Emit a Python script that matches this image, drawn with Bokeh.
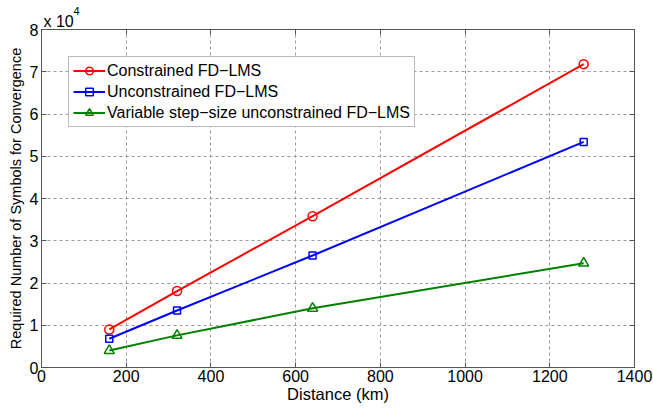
from bokeh.plotting import figure
from bokeh.models import (Legend, LegendItem, LinearAxis, FixedTicker, Title, Range1d,
                          CustomJSTickFormatter)
from bokeh.embed import file_html
from bokeh.resources import INLINE

distance = [160, 320, 640, 1280]
constrained = [9000, 18100, 35800, 71800]
unconstrained = [6800, 13500, 26500, 53400]
variable_step = [4000, 7600, 14000, 24700]
labels = ["Constrained FD\u2212LMS", "Unconstrained FD\u2212LMS",
          "Variable step\u2212size unconstrained FD\u2212LMS"]
x_ticks = [0, 200, 400, 600, 800, 1000, 1200, 1400]
y_ticks = [0, 10000, 20000, 30000, 40000, 50000, 60000, 70000, 80000]

FONT = "Liberation Sans"

p = figure(width=653, height=408, output_backend="svg", toolbar_location=None,
           x_range=Range1d(0, 1400), y_range=Range1d(0, 80000),
           min_border_left=41, min_border_right=19, min_border_top=29, min_border_bottom=41)
p.background_fill_color = "white"
p.border_fill_color = "white"
p.outline_line_color = "#555555"
p.outline_line_width = 1

for ax in (p.xaxis[0], p.yaxis[0]):
    ax.major_tick_in = 5
    ax.major_tick_out = 0
    ax.minor_tick_in = 0
    ax.minor_tick_out = 0
    ax.axis_line_color = "#555555"
    ax.major_tick_line_color = "#555555"
    ax.major_label_text_font = FONT
    ax.major_label_text_font_size = "16px"
    ax.major_label_text_color = "black"
    ax.axis_label_text_font = FONT
    ax.axis_label_text_font_style = "normal"
    ax.axis_label_text_color = "black"

p.xaxis[0].ticker = FixedTicker(ticks=x_ticks)
p.yaxis[0].ticker = FixedTicker(ticks=y_ticks)
p.yaxis[0].formatter = CustomJSTickFormatter(code="return (tick/10000).toFixed(0);")
p.xaxis[0].axis_label = "Distance (km)"
p.xaxis[0].axis_label_text_font_size = "16.5px"
p.xaxis[0].axis_label_standoff = 0
p.xaxis[0].major_label_standoff = 2
p.yaxis[0].axis_label = "Required Number of Symbols for Convergence"
p.yaxis[0].axis_label_text_font_size = "14.5px"
p.yaxis[0].axis_label_standoff = 3
p.yaxis[0].major_label_standoff = 3

blank = CustomJSTickFormatter(code="return '';")
top = LinearAxis(ticker=FixedTicker(ticks=x_ticks), formatter=blank,
                 major_tick_in=5, major_tick_out=0, minor_tick_in=0, minor_tick_out=0,
                 major_label_standoff=0,
                 axis_line_color="#555555", major_tick_line_color="#555555")
right = LinearAxis(ticker=FixedTicker(ticks=y_ticks), formatter=blank,
                   major_tick_in=5, major_tick_out=0, minor_tick_in=0, minor_tick_out=0,
                   major_label_standoff=0,
                   axis_line_color="#555555", major_tick_line_color="#555555")
p.add_layout(top, "above")
p.add_layout(right, "right")

# multiplier "x 10^4" drawn as two stacked titles (base + superscript)
p.add_layout(Title(text="x 10", align="left", offset=2, standoff=0,
                   text_font=FONT, text_font_size="16px", text_font_style="normal",
                   text_color="black"), "above")
p.add_layout(Title(text="4", align="left", offset=32, standoff=-9,
                   text_font=FONT, text_font_size="11px", text_font_style="normal",
                   text_color="black"), "above")

p.xgrid.ticker = FixedTicker(ticks=x_ticks)
p.ygrid.ticker = FixedTicker(ticks=y_ticks)
for g in (p.xgrid[0], p.ygrid[0]):
    g.grid_line_color = "#9a9a9a"
    g.grid_line_dash = "3 3"
    g.grid_line_width = 1

r1l = p.line(distance, constrained, line_color="#ff0000", line_width=2)
r1m = p.scatter(distance, constrained, marker="circle", size=9, line_color="#ff0000",
                fill_color=None, line_width=1.5)
r2l = p.line(distance, unconstrained, line_color="#0000ff", line_width=2)
r2m = p.scatter(distance, unconstrained, marker="square", size=7, line_color="#0000ff",
                fill_color=None, line_width=1.5)
r3l = p.line(distance, variable_step, line_color="#008000", line_width=2)
r3m = p.scatter(distance, variable_step, marker="triangle", size=10, line_color="#008000",
                fill_color=None, line_width=1.5)

legend = Legend(items=[LegendItem(label=labels[0], renderers=[r1l, r1m]),
                       LegendItem(label=labels[1], renderers=[r2l, r2m]),
                       LegendItem(label=labels[2], renderers=[r3l, r3m])],
                location=(27, 240))
legend.label_text_font = FONT
legend.label_text_font_size = "16px"
legend.label_text_color = "black"
legend.glyph_width = 32
legend.glyph_height = 19
legend.label_standoff = 2
legend.label_height = 19
legend.spacing = 2
legend.padding = 4
legend.margin = 0
legend.border_line_color = "#777777"
legend.border_line_width = 1
legend.background_fill_color = "white"
legend.background_fill_alpha = 1
p.add_layout(legend)

open("out.html", "w").write(file_html(p, INLINE))
